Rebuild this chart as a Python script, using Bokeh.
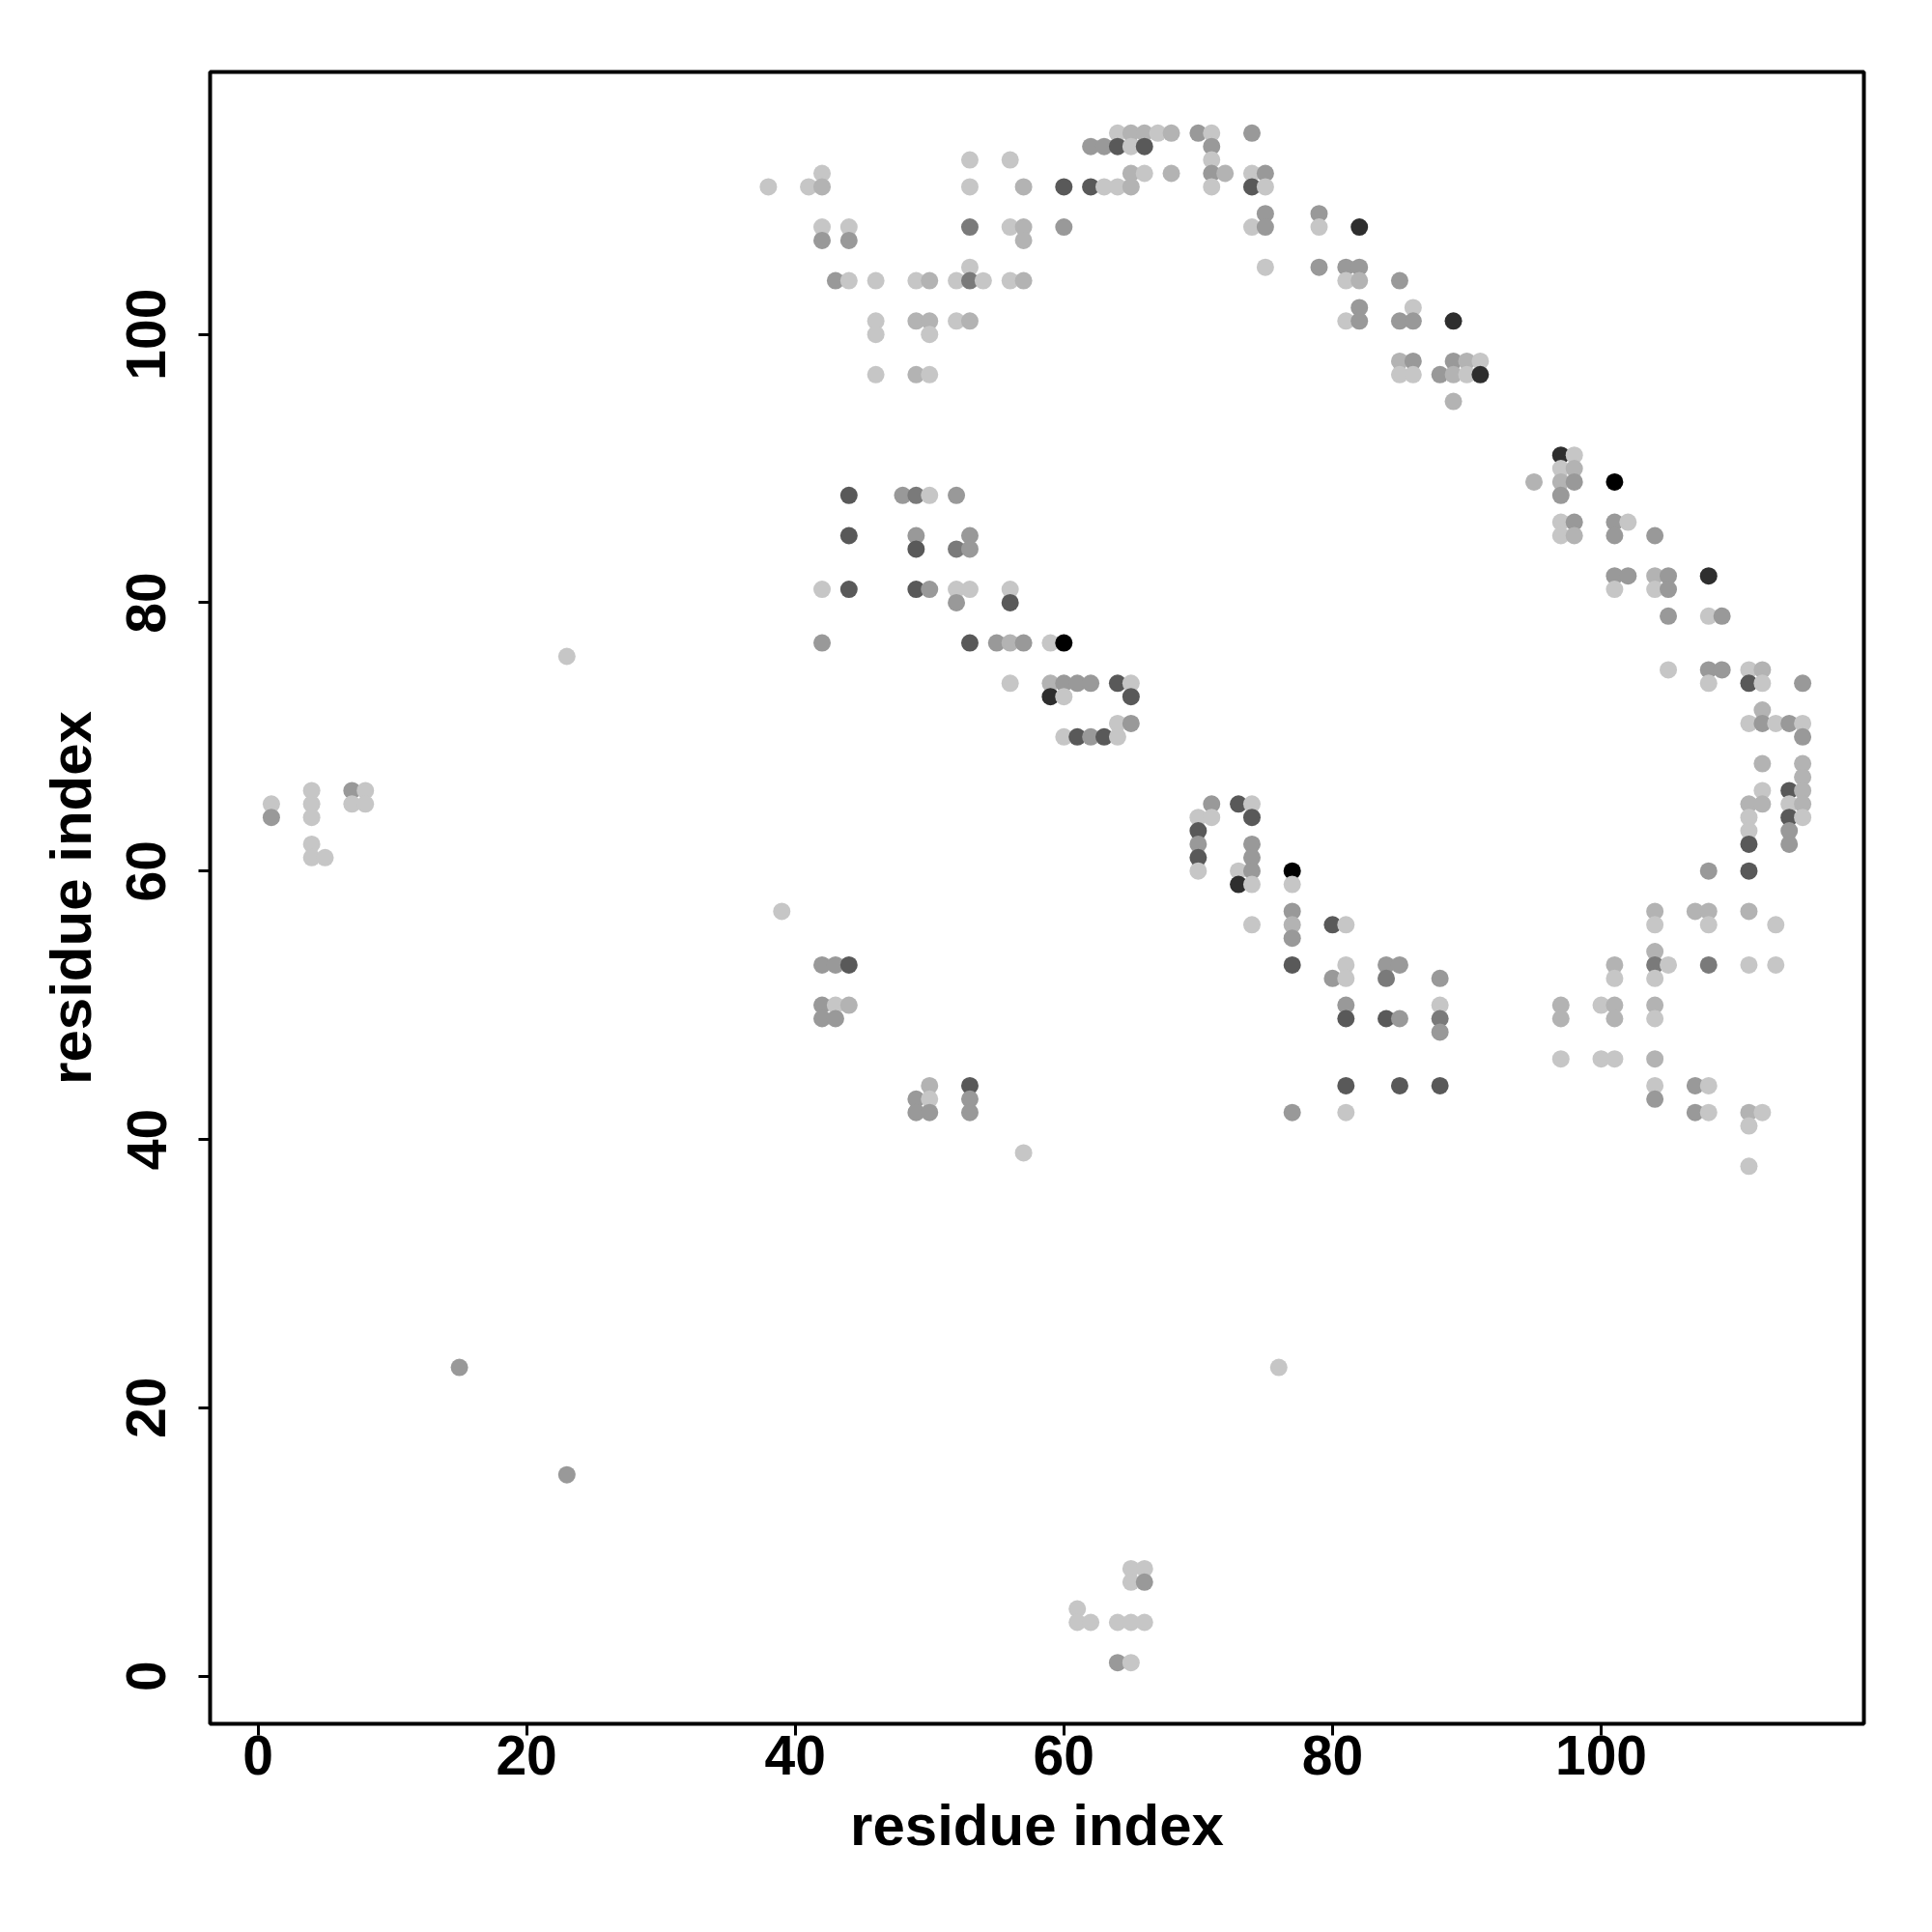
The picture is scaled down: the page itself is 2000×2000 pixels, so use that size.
from bokeh.plotting import figure
from bokeh.models import ColumnDataSource, FixedTicker, Range1d
from bokeh.embed import file_html
from bokeh.resources import INLINE

# residue pairs, grouped by row (residue j on y); level = contact strength class (1 light .. 7 black)
row_y = [115, 114, 113, 112, 111, 109, 108, 107, 105, 104, 102, 101, 100, 98, 97, 95,
         91, 90, 89, 88, 86, 85, 84, 82, 81, 80, 79, 77, 76, 75, 74, 73, 72, 71, 70,
         68, 67, 66, 65, 64, 63, 62, 61, 60, 59, 57, 56, 55, 54, 53, 52, 50, 49, 48,
         46, 44, 43, 42, 41, 39, 38, 23, 15, 8, 7, 5, 4, 1]

row_x = [
    [64, 65, 66, 67, 68, 70, 71, 74],
    [62, 63, 64, 65, 66, 71],
    [53, 56, 71],
    [42, 65, 66, 68, 71, 72, 74, 75],
    [38, 41, 42, 53, 57, 60, 62, 63, 64, 65, 71, 74, 75],
    [75, 79],
    [42, 44, 53, 56, 57, 60, 74, 75, 79, 82],
    [42, 44, 57],
    [53, 75, 79, 81, 82],
    [43, 44, 46, 49, 50, 52, 53, 54, 56, 57, 81, 82, 85],
    [82, 86],
    [46, 49, 50, 52, 53, 81, 82, 85, 86, 89],
    [46, 50],
    [85, 86, 89, 90, 91],
    [46, 49, 50, 85, 86, 88, 89, 90, 91],
    [89],
    [97, 98],
    [97, 98],
    [95, 97, 98, 101],
    [44, 48, 49, 50, 52, 97],
    [97, 98, 101, 102],
    [44, 49, 53, 97, 98, 101, 104],
    [49, 52, 53],
    [101, 102, 104, 105, 108],
    [42, 44, 49, 50, 52, 53, 56, 101, 104, 105],
    [52, 56],
    [105, 108, 109],
    [42, 53, 55, 56, 57, 59, 60],
    [23],
    [105, 108, 109, 111, 112],
    [56, 59, 60, 61, 62, 64, 65, 108, 111, 112, 115],
    [59, 60, 65],
    [112],
    [64, 65, 111, 112, 113, 114, 115],
    [60, 61, 62, 63, 64, 115],
    [112, 115],
    [115],
    [4, 7, 8, 112, 114, 115],
    [1, 4, 7, 8, 71, 73, 74, 111, 112, 114, 115],
    [1, 4, 70, 71, 74, 111, 114, 115],
    [70, 111, 114],
    [4, 70, 74, 111, 114],
    [4, 5, 70, 74],
    [70, 73, 74, 77, 108, 111],
    [73, 74, 77],
    [39, 77, 104, 107, 108, 111],
    [74, 77, 80, 81, 104, 108, 113],
    [77],
    [104],
    [42, 43, 44, 77, 81, 84, 85, 101, 104, 105, 108, 111, 113],
    [80, 81, 84, 88, 101, 104],
    [42, 43, 44, 81, 88, 97, 100, 101, 104],
    [42, 43, 81, 84, 85, 88, 97, 101, 104],
    [88],
    [97, 100, 101, 104],
    [50, 53, 81, 85, 88, 104, 107, 108],
    [49, 50, 53, 104],
    [49, 50, 53, 77, 81, 107, 108, 111, 112],
    [111],
    [57],
    [111],
    [15, 76],
    [23],
    [65, 66],
    [65, 66],
    [61],
    [61, 62, 64, 65, 66],
    [64, 65],
]

row_level = [
    [1, 2, 2, 1, 2, 3, 1, 3],
    [3, 3, 5, 1, 5, 3],
    [1, 1, 1],
    [1, 2, 1, 2, 3, 2, 1, 3],
    [1, 1, 2, 1, 2, 5, 5, 1, 1, 2, 1, 5, 1],
    [3, 3],
    [1, 1, 4, 1, 2, 3, 1, 3, 1, 6],
    [3, 3, 2],
    [1, 1, 3, 3, 3],
    [3, 1, 1, 1, 2, 1, 4, 1, 1, 2, 1, 2, 3],
    [3, 1],
    [1, 2, 2, 1, 2, 1, 3, 3, 3, 6],
    [1, 1],
    [2, 3, 3, 2, 1],
    [1, 2, 1, 1, 1, 3, 2, 1, 6],
    [2],
    [6, 1],
    [1, 2],
    [2, 2, 3, 7],
    [5, 3, 4, 1, 3, 3],
    [1, 3, 3, 1],
    [5, 3, 3, 1, 2, 3, 3],
    [5, 4, 3],
    [3, 3, 2, 3, 6],
    [1, 5, 5, 3, 1, 1, 1, 1, 1, 3],
    [3, 5],
    [3, 1, 3],
    [3, 5, 3, 2, 3, 1, 7],
    [1],
    [1, 3, 3, 1, 2],
    [1, 2, 3, 3, 3, 5, 1, 1, 5, 1, 3],
    [6, 1, 5],
    [2],
    [1, 3, 1, 3, 1, 3, 1],
    [1, 5, 3, 5, 1, 3],
    [2, 2],
    [2],
    [1, 3, 1, 1, 5, 2],
    [1, 1, 1, 1, 3, 5, 1, 2, 2, 1, 2],
    [3, 1, 1, 1, 5, 1, 5, 1],
    [5, 1, 3],
    [1, 3, 3, 5, 3],
    [1, 1, 5, 3],
    [1, 1, 3, 7, 3, 5],
    [6, 1, 1],
    [1, 3, 2, 2, 2, 2],
    [1, 2, 5, 1, 1, 1, 1],
    [3],
    [2],
    [3, 3, 5, 5, 1, 3, 3, 2, 4, 1, 4, 1, 1],
    [3, 1, 4, 3, 1, 1],
    [3, 1, 2, 3, 1, 2, 1, 2, 2],
    [3, 3, 5, 5, 3, 4, 2, 2, 1],
    [3],
    [1, 1, 1, 2],
    [2, 5, 5, 5, 5, 1, 3, 1],
    [3, 1, 3, 3],
    [3, 3, 3, 3, 1, 3, 1, 2, 1],
    [1],
    [1],
    [1],
    [3, 1],
    [3],
    [1, 1],
    [1, 3],
    [1],
    [1, 1, 1, 1, 1],
    [3, 1],
]

tick_values = [0, 20, 40, 60, 80, 100]
axis_title = "residue index"

gray_palette = {1: "#c6c6c6", 2: "#b3b3b3", 3: "#999999", 4: "#7a7a7a",
                5: "#595959", 6: "#2e2e2e", 7: "#000000"}

xs, ys, cols = [], [], []
for yv, xr, lr in zip(row_y, row_x, row_level):
    for xv, lv in zip(xr, lr):
        xs.append(xv)
        ys.append(yv)
        cols.append(gray_palette[lv])

src = ColumnDataSource(dict(x=xs, y=ys, color=cols))

pad_x = (max(xs) - min(xs)) * 0.04
pad_y = (max(ys) - min(ys)) * 0.04

p = figure(frame_width=1712, frame_height=1710,
           x_range=Range1d(min(xs) - pad_x, max(xs) + pad_x),
           y_range=Range1d(min(ys) - pad_y, max(ys) + pad_y),
           output_backend="svg", toolbar_location=None,
           min_border_left=217, min_border_top=74, min_border_right=55, min_border_bottom=190)

p.scatter("x", "y", source=src, size=18, fill_color="color", line_color=None)

p.xgrid.visible = False
p.ygrid.visible = False
p.outline_line_color = "black"
p.outline_line_width = 4
p.background_fill_color = "white"
p.border_fill_color = "white"

for ax in (p.xaxis[0], p.yaxis[0]):
    ax.ticker = FixedTicker(ticks=tick_values)
    ax.axis_line_color = None
    ax.major_tick_line_width = 3
    ax.major_tick_line_color = "black"
    ax.major_tick_out = 12
    ax.major_tick_in = 0
    ax.minor_tick_line_color = None
    ax.major_label_text_font = "Liberation Sans"
    ax.major_label_text_font_style = "bold"
    ax.major_label_text_font_size = "57px"
    ax.major_label_text_color = "black"
    ax.axis_label = axis_title
    ax.axis_label_text_font = "Liberation Sans"
    ax.axis_label_text_font_style = "bold"
    ax.axis_label_text_font_size = "60px"
    ax.axis_label_text_color = "black"

p.xaxis[0].major_label_standoff = 0
p.xaxis[0].axis_label_standoff = 16
p.yaxis[0].major_label_orientation = "vertical"
p.yaxis[0].major_label_standoff = 34
p.yaxis[0].axis_label_standoff = 22

open("out.html", "w").write(file_html(p, INLINE))
